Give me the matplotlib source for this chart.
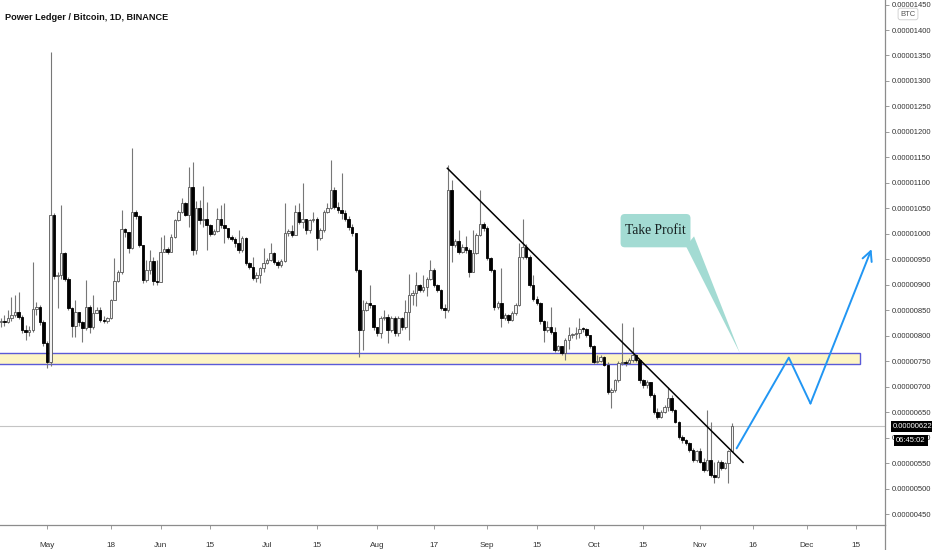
import matplotlib
matplotlib.use("Agg")
import matplotlib.pyplot as plt
from matplotlib.patches import Rectangle, FancyBboxPatch, Polygon
from matplotlib.lines import Line2D
import matplotlib.transforms as mtransforms

# POWR/BTC daily candles (prices in satoshi, 1e-8 BTC), day 0 = Apr 18 ... day 206 = Nov 10
first_open = 826
close = [828, 826, 834, 840, 846, 836, 811, 808, 812, 852, 857, 826, 785, 749, 1037,
         917, 920, 962, 912, 854, 820, 847, 826, 815, 857, 818, 844, 851, 831, 828,
         834, 870, 907, 925, 1010, 1004, 972, 1043, 1035, 978, 910, 928, 946, 908, 906,
         965, 970, 965, 994, 1027, 1043, 1060, 1037,
         1092, 968, 1050, 1027, 1030, 1017, 1000, 1006, 1030, 1017, 1012, 994, 990, 981,
         968, 991, 942, 935, 913, 920, 932, 942, 948, 962, 945, 938, 946, 1001, 1005, 998,
         1043, 1024, 1030, 1008, 1027, 1030, 991, 1007, 1043, 1050, 1086, 1053, 1047, 1040,
         1030, 1014, 1001, 929, 811, 850, 864, 860, 818,
         805, 834, 837, 811, 834, 805, 834, 818, 847, 880, 883, 900, 890, 896, 912, 929,
         900, 890, 854, 850, 1086, 978, 985, 965, 975, 968, 926, 962, 998, 1020, 1011, 952,
         929, 857, 864, 834, 841, 831, 844, 860, 955, 975, 955, 900, 873, 864, 828, 811,
         818, 808, 772,
         779, 766, 792, 801, 803, 805, 814, 813, 801, 779, 749, 750, 759, 743, 690, 694,
         713, 746, 749, 746, 752, 762, 752, 713, 703, 710, 684, 651, 641, 651, 661, 677,
         654, 631, 602, 595, 589, 576, 556, 573, 553, 537, 556, 527, 523, 553, 540, 550,
         573, 622]
high = [835, 840, 850, 876, 880, 886, 840, 822, 820, 945, 866, 860, 830, 790, 1357,
        1040, 925, 1056, 965, 916, 857, 870, 845, 828, 909, 860, 880, 856, 857, 838,
        836, 872, 952, 928, 1047, 1012, 1004, 1168, 1046, 1037, 978, 948, 968, 955, 948,
        994, 997, 975, 1000, 1030, 1046, 1070, 1062,
        1132, 1141, 1065, 1066, 1093, 1063, 1020, 1010, 1050, 1056, 1060, 1012, 998, 994,
        1007, 995, 994, 945, 955, 925, 935, 972, 952, 981, 965, 948, 950, 1060, 1010, 1017,
        1056, 1060, 1099, 1030, 1030, 1043, 1033, 1012, 1046, 1060, 1145, 1092, 1062, 1119,
        1046, 1034, 1020, 1001, 930, 870, 868, 899, 860,
        818, 838, 850, 842, 838, 838, 838, 836, 870, 922, 890, 926, 902, 919, 916, 948,
        932, 902, 892, 862, 1135, 1106, 990, 1008, 980, 995, 972, 1008, 1002, 1086, 1024, 1016,
        955, 930, 868, 932, 845, 842, 848, 864, 981, 1030, 980, 958, 919, 877, 866, 830,
        828, 857, 818,
        782, 780, 796, 818, 806, 818, 834, 818, 815, 802, 782, 762, 762, 760, 748, 698,
        716, 750, 824, 752, 756, 818, 764, 750, 716, 714, 710, 688, 658, 654, 664, 700,
        684, 656, 632, 606, 598, 592, 580, 576, 580, 560, 654, 631, 552, 556, 556, 553,
        576, 628]
low = [818, 820, 825, 828, 836, 832, 806, 791, 800, 808, 840, 822, 780, 736, 740,
       912, 854, 912, 908, 850, 798, 798, 820, 788, 812, 805, 814, 845, 826, 824,
       824, 832, 872, 905, 922, 994, 962, 970, 1030, 975, 903, 906, 922, 900, 900,
       906, 965, 960, 975, 992, 1025, 1040, 1035,
       1014, 958, 960, 1020, 1014, 968, 996, 998, 1004, 1012, 981, 990, 985, 975,
       962, 965, 938, 930, 909, 905, 903, 926, 940, 946, 940, 933, 935, 945, 995, 994,
       998, 1020, 1012, 1000, 1002, 1024, 968, 988, 1004, 1040, 1048, 1048, 1040, 1030,
       1025, 1008, 995, 925, 759, 772, 848, 854, 812,
       800, 795, 830, 785, 808, 800, 800, 812, 814, 792, 860, 858, 886, 885, 877, 910,
       896, 885, 850, 834, 846, 945, 975, 960, 962, 962, 916, 935, 960, 995, 1005, 948,
       925, 850, 852, 818, 830, 825, 828, 840, 858, 950, 950, 896, 868, 860, 823, 788,
       808, 803, 768,
       770, 762, 752, 774, 796, 794, 796, 808, 797, 775, 745, 746, 748, 740, 686, 658,
       690, 710, 742, 740, 744, 748, 748, 708, 698, 698, 680, 646, 636, 638, 648, 652,
       650, 628, 598, 590, 585, 572, 552, 553, 550, 533, 535, 522, 510, 520, 536, 538,
       510, 575]
opens = [first_open] + close[:-1]

# resistance zone, trendline, projected path, callout
zone_low, zone_high, zone_end = 744, 766, 242.0
trend_x, trend_y = [125.8, 209.1], [1128.6, 551.5]
path_x, path_y = [207.3, 222.0, 228.1, 245.3], [579, 757, 667, 970]
last_price = 622

tick_days = [13, 31, 45, 59, 75, 89, 106, 122, 137, 151, 167, 181, 197, 212, 227, 241]
tick_names = ["May", "18", "Jun", "15", "Jul", "15", "Aug", "17", "Sep", "15",
              "Oct", "15", "Nov", "16", "Dec", "15"]
price_ticks = list(range(450, 1451, 50))

nfont, nsize = "Liberation Sans", 5.5
grey = "#8c8c8c"

fig = plt.figure(figsize=(9.32, 5.5), dpi=100)
ax = fig.add_axes([0, 25 / 550, 885 / 932, 525 / 550])
ax.set_xlim(-0.24, 249.1)
ax.set_ylim(428.5, 1458.9)

# zone
ax.add_patch(Rectangle((-5, zone_low), zone_end + 5, zone_high - zone_low,
                       facecolor="#fdf5c4", edgecolor="#5a5ad8", lw=1.0, zorder=1))
ax.axhline(last_price, color="#c4c4c4", lw=0.8, zorder=1)

# candles
days = list(range(len(close)))
ax.vlines(days, low, high, color="#777777", lw=0.8, zorder=2)
up = [c >= o for o, c in zip(opens, close)]
bottoms = [min(o, c) for o, c in zip(opens, close)]
heights = [max(abs(c - o), 2) for o, c in zip(opens, close)]
ax.bar([d for d, u in zip(days, up) if u], [h for h, u in zip(heights, up) if u],
       bottom=[b for b, u in zip(bottoms, up) if u], width=0.7,
       facecolor="#f2f2f2", edgecolor="#555555", lw=0.6, zorder=3)
ax.bar([d for d, u in zip(days, up) if not u], [h for h, u in zip(heights, up) if not u],
       bottom=[b for b, u in zip(bottoms, up) if not u], width=0.7,
       facecolor="black", edgecolor="black", lw=0.6, zorder=3)

# trendline
ax.plot(trend_x, trend_y, color="black", lw=1.1, zorder=4)

# projection
ax.plot(path_x[:3], path_y[:3], color="#2196f3", lw=1.4, zorder=4, solid_capstyle="round")
ax.annotate("", xy=(path_x[3], path_y[3]), xytext=(path_x[2], path_y[2]),
            arrowprops=dict(arrowstyle="->,head_length=0.7,head_width=0.35",
                            color="#2196f3", lw=1.4, shrinkA=0, shrinkB=0), zorder=4)

# callout
teal = "#a3dbd3"
aspect = 3.55 / 0.5095
ax.add_patch(Polygon([(193.0, 976), (195.3, 995), (208.2, 766)], closed=True,
                     facecolor=teal, edgecolor="none", zorder=5))
ax.add_patch(FancyBboxPatch((174.6, 973.5), 194.3 - 174.6, 1038.9 - 973.5,
                            boxstyle="round,pad=0,rounding_size=1.2",
                            mutation_aspect=aspect, facecolor=teal, edgecolor="none",
                            zorder=5))
ax.text(184.5, 1007, "Take Profit", ha="center", va="center", fontsize=9.8,
        family="Liberation Serif", color="#172222", zorder=6)

# axes styling
for s in ["top", "left"]:
    ax.spines[s].set_visible(False)
for s in ["bottom", "right"]:
    ax.spines[s].set_color(grey)
    ax.spines[s].set_linewidth(0.9)
ax.yaxis.tick_right()
ax.set_yticks(price_ticks, [f"{p / 1e8:.8f}" for p in price_ticks])
ax.set_xticks(tick_days, tick_names)
ax.tick_params(axis="y", length=3, width=0.6, color=grey, pad=1.5,
               labelsize=nsize, labelcolor="#333333")
ax.tick_params(axis="x", length=3, width=0.6, color=grey, pad=9,
               labelsize=nsize + 0.4, labelcolor="#333333")
for lab in ax.get_xticklabels() + ax.get_yticklabels():
    lab.set_family(nfont)

fig.add_artist(Line2D([885 / 932, 885 / 932], [0, 25 / 550], transform=fig.transFigure,
                      color=grey, lw=0.9))

# price / countdown labels on the scale
trans = mtransforms.blended_transform_factory(ax.transAxes, ax.transData)
ax.text(1.009, last_price, f"{last_price / 1e8:.8f}", transform=trans, ha="left",
        va="center", fontsize=nsize, family=nfont, color="white", clip_on=False, zorder=10,
        bbox=dict(boxstyle="square,pad=0.25", fc="black", ec="none"))
ax.text(1.0125, 594, "06:45:02", transform=trans, ha="left", va="center",
        fontsize=nsize, family=nfont, color="white", clip_on=False, zorder=10,
        bbox=dict(boxstyle="square,pad=0.3", fc="black", ec="none"))

fig.text(908 / 932, 1 - 14 / 550, "BTC", ha="center", va="center", fontsize=nsize,
         family=nfont, color="#555555", zorder=10,
         bbox=dict(boxstyle="round,pad=0.3", fc="white", ec="#cccccc", lw=0.6))
fig.text(5 / 932, 1 - 17 / 550, "Power Ledger / Bitcoin, 1D, BINANCE", ha="left",
         va="center", fontsize=6.6, family=nfont, weight="bold", color="#111111")

fig.savefig("out.png", dpi=100)
